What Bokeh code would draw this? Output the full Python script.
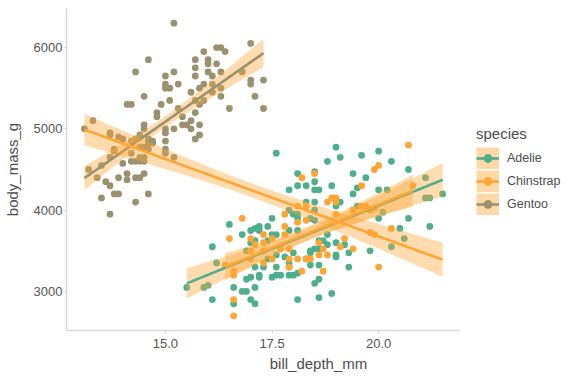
import numpy as np
from bokeh.plotting import figure
from bokeh.models import (Range1d, FixedTicker, Legend, LegendItem, ColumnDataSource)
from bokeh.embed import file_html
from bokeh.resources import INLINE

# ---------------- data ----------------
species = ["Adelie", "Chinstrap", "Gentoo"]
colors = ["#4FAF8C", "#FFA533", "#9A9170"]
band_fill = "#FDA83A"

adelie_depth = [17.6, 17.9, 16.5, 16.1, 15.5, 15.9, 16.0, 16.1, 16.2, 16.8, 17.0, 17.1, 17.2, 17.2,
                17.4, 17.5, 17.0, 17.1, 16.9, 17.1, 17.3, 17.0, 16.9, 17.2, 17.2, 17.1, 16.8, 16.9,
                16.6, 16.6, 17.0, 17.1, 17.5, 17.6, 17.7, 17.9, 17.6, 17.4, 17.6, 17.8, 17.4, 17.5,
                17.6, 17.9, 17.9,
                19.0, 19.1, 19.6, 18.8, 18.1, 18.5, 18.5, 19.4, 19.7, 18.1, 18.3, 18.5, 18.6, 18.9,
                19.5, 19.4, 18.5, 18.3, 17.9, 18.0, 19.0, 19.1, 19.5, 18.1, 18.4, 18.5, 17.9, 18.1,
                18.6, 18.7, 18.8, 19.0, 19.2, 19.0, 19.0, 19.3, 19.3, 19.8, 18.4, 18.5, 18.6, 18.4,
                18.3, 18.0, 18.0, 18.1, 18.4, 18.6, 18.5, 18.6, 18.1, 18.6, 18.9, 18.8, 18.5, 18.1,
                20.0, 20.3, 20.7, 20.0, 20.2, 21.1, 21.2, 21.5, 21.1, 20.7, 21.2, 20.5, 20.0, 20.1,
                20.3, 20.6]
adelie_mass = [4700, 4250, 3825, 3550, 3050, 3050, 3075, 2900, 3350, 3700, 3750, 3775, 3800, 3750,
               3800, 3900, 3600, 3625, 3500, 3300, 3300, 3175, 3150, 3200, 3175, 3050, 3000, 3000,
               3050, 2850, 2900, 2850, 3175, 3200, 3200, 3200, 3300, 3400, 3450, 3425, 3625, 3700,
               3700, 3350, 3300,
               4775, 4650, 4675, 4600, 4450, 4475, 4350, 4450, 4400, 4300, 4300, 4250, 4250, 4300,
               4275, 4200, 4100, 4100, 4000, 3950, 4050, 4100, 4050, 3900, 3900, 3875, 3750, 3750,
               3625, 3625, 3575, 3600, 3575, 3450, 3425, 3475, 3300, 3500, 3500, 3525, 3525, 3475,
               3400, 3475, 3200, 3225, 3325, 3325, 3100, 3150, 2900, 2925, 2975, 3700, 4000, 3950,
               4725, 4600, 4500, 4250, 4250, 4150, 4150, 4200, 4400, 3900, 3800, 3775, 3900, 3975,
               3550, 3650]

chinstrap_depth = [16.8, 16.5, 17.0, 17.1, 17.3, 17.3, 17.5, 17.3, 17.5, 17.0, 17.0, 16.4, 16.6, 16.6,
                   16.6, 16.6, 17.8, 17.8, 17.8, 17.7, 17.9, 17.9, 17.3,
                   18.2, 18.5, 19.9, 19.6, 18.8, 18.9, 19.0, 19.0, 18.1, 18.3, 18.1, 18.3, 19.0, 19.2,
                   19.1, 19.4, 18.6, 18.7, 18.8, 18.6, 18.3, 18.4, 17.9, 18.1, 18.2, 18.7, 19.4,
                   20.7, 20.0, 20.8, 20.3, 19.8, 19.9, 20.0, 19.6, 19.7, 19.8, 19.9]
chinstrap_mass = [3900, 3650, 3650, 3575, 3700, 3600, 3650, 3500, 3400, 3500, 3400, 3325, 3250, 3200,
                  2900, 2700, 3950, 3800, 3700, 3525, 3525, 3300, 3350,
                  4400, 4450, 4500, 4300, 4100, 4150, 4150, 4100, 4050, 4050, 3850, 3875, 3950, 3650,
                  3550, 3525, 3600, 3525, 3450, 3450, 3400, 3400, 3400, 3400, 3250, 3250, 4000,
                  4800, 4550, 4300, 3775, 3725, 3700, 3300, 4050, 4050, 4000, 4025]

gentoo_depth = [15.2, 17.0, 16.2, 16.3, 16.4, 15.9, 14.6, 15.7, 16.0, 16.0, 16.2, 15.7, 14.3, 15.2,
                15.0, 15.7, 16.0, 16.1, 16.3, 16.8, 17.0, 17.0, 17.3, 15.0, 15.0, 15.1, 15.3, 15.9,
                16.1, 15.8, 16.3, 15.6, 16.1, 17.1, 16.3, 14.5, 15.1, 15.9, 15.7, 14.9, 14.1, 14.2,
                15.8, 16.5, 17.3, 15.3,
                14.8, 14.8, 15.4, 15.2, 15.5, 15.6, 15.4, 15.6, 15.7, 15.8, 15.7, 15.8, 15.0, 15.0,
                15.0, 15.0, 15.0, 15.2,
                13.1, 13.3, 13.7, 13.7, 13.9, 14.0, 13.8, 13.8, 13.7, 14.0, 13.2, 13.5, 13.4, 13.6,
                13.7, 13.9, 13.8, 13.9, 14.1, 14.1, 14.3, 14.4, 14.5, 14.6, 13.5, 14.3, 13.7,
                14.2, 14.3, 14.4, 14.5, 14.5, 14.6, 14.7, 14.6, 14.7, 14.2, 14.4, 14.5, 14.6, 14.2,
                14.3, 14.4, 14.4, 14.5, 14.5]
gentoo_mass = [6300, 6050, 6000, 6000, 5950, 5950, 5850, 5850, 5850, 5800, 5800, 5750, 5700, 5700,
               5650, 5650, 5700, 5650, 5700, 5700, 5600, 5550, 5600, 5550, 5500, 5500, 5550, 5550,
               5550, 5500, 5500, 5450, 5450, 5400, 5400, 5400, 5350, 5350, 5350, 5300, 5300, 5300,
               5300, 5250, 5250, 5250,
               5200, 5150, 5150, 5000, 5050, 5000, 5050, 5100, 5200, 5050, 4875, 4925, 5000, 4950,
               4850, 4750, 4700, 4650,
               5000, 5100, 4950, 4925, 4900, 4875, 4750, 4725, 4650, 4575, 4500, 4550, 4400, 4350,
               4300, 4400, 4200, 4200, 4450, 4375, 4400, 4400, 4450, 4200, 4150, 4100, 3950,
               4850, 4875, 4925, 5050, 5000, 4875, 4850, 4825, 4825, 4700, 4775, 4775, 4750, 4600,
               4600, 4600, 4650, 4650, 4600]

x_ticks = [15.0, 17.5, 20.0]
x_tick_labels = ["15.0", "17.5", "20.0"]
y_ticks = [3000, 4000, 5000, 6000]
y_tick_labels = ["3000", "4000", "5000", "6000"]

depths = [adelie_depth, chinstrap_depth, gentoo_depth]
masses = [adelie_mass, chinstrap_mass, gentoo_mass]


def lm_band(x, y, npts=80):
    x = np.asarray(x, float)
    y = np.asarray(y, float)
    n = len(x)
    b, a = np.polyfit(x, y, 1)
    xs = np.linspace(x.min(), x.max(), npts)
    yh = a + b * xs
    s = np.sqrt(np.sum((y - (a + b * x)) ** 2) / (n - 2))
    se = s * np.sqrt(1.0 / n + (xs - x.mean()) ** 2 / np.sum((x - x.mean()) ** 2))
    t = 1.96 + 2.4 / (n - 2)
    return dict(x=xs, y=yh, lo=yh - t * se, hi=yh + t * se)


# ---------------- layout ----------------
W, H = 570, 380
LEFT, TOP, BOTTOM = 66, 8, 50
PANEL_W = 394          # width of the data panel (axis line length)
frame_w = W - LEFT     # frame reaches to the right edge; legend lives in the extra part

all_d = sum(depths, [])
all_m = sum(masses, [])
x_pad = (max(all_d) - min(all_d)) * 0.05
y_pad = (max(all_m) - min(all_m)) * 0.05
x0, x1 = min(all_d) - x_pad, max(all_d) + x_pad
xr = Range1d(x0, x0 + (x1 - x0) * frame_w / PANEL_W)
yr = Range1d(min(all_m) - y_pad, max(all_m) + y_pad)

p = figure(width=W, height=H, x_range=xr, y_range=yr,
           output_backend="svg", toolbar_location=None,
           min_border_left=LEFT, min_border_right=0, min_border_top=TOP,
           min_border_bottom=BOTTOM)
p.outline_line_color = None
p.xgrid.visible = False
p.ygrid.visible = False
p.background_fill_color = "white"
p.border_fill_color = "white"

FONT = "Liberation Sans"
for ax in (p.xaxis[0], p.yaxis[0]):
    ax.axis_line_color = "#D9D9D9"
    ax.axis_line_width = 1.5
    ax.major_tick_line_color = "#D9D9D9"
    ax.major_tick_line_width = 1.2
    ax.major_tick_out = 3
    ax.major_tick_in = 0
    ax.minor_tick_line_color = None
    ax.major_label_text_font = FONT
    ax.major_label_text_font_size = "13px"
    ax.major_label_text_color = "#555555"
    ax.axis_label_text_font = FONT
    ax.axis_label_text_font_size = "15px"
    ax.axis_label_text_font_style = "normal"
    ax.axis_label_text_color = "#4D4D4D"

p.xaxis.bounds = (x0, x1)
p.xaxis.major_label_standoff = 5
p.xaxis.axis_label_standoff = 4
p.yaxis.major_label_standoff = 1
p.yaxis.axis_label_standoff = 10

p.xaxis.ticker = FixedTicker(ticks=x_ticks)
p.xaxis.major_label_overrides = {t: l for t, l in zip(x_ticks, x_tick_labels)}
p.yaxis.ticker = FixedTicker(ticks=y_ticks)
p.yaxis.major_label_overrides = {t: l for t, l in zip(y_ticks, y_tick_labels)}
p.xaxis.axis_label = "bill_depth_mm"
p.yaxis.axis_label = "body_mass_g"

# points
pt_r = []
for d, m, c in zip(depths, masses, colors):
    r = p.scatter(d, m, size=6.8, fill_color=c, line_color=None)
    pt_r.append(r)

# smooths per species
line_r = []
for d, m, c in zip(depths, masses, colors):
    src = ColumnDataSource(lm_band(d, m))
    p.varea(x="x", y1="lo", y2="hi", source=src, fill_color=band_fill, fill_alpha=0.4)
    l = p.line(x="x", y="y", source=src, line_color=c, line_width=2.6)
    line_r.append(l)

# overall smooth
src_all = ColumnDataSource(lm_band(all_d, all_m))
p.varea(x="x", y1="lo", y2="hi", source=src_all, fill_color=band_fill, fill_alpha=0.4)
p.line(x="x", y="y", source=src_all, line_color=colors[1], line_width=2.6)

# legend key background: a one-point line (draws nothing in the plot) shown as a wide bar in keys
key_bg = p.line(x=all_d[:1], y=all_m[:1], line_color=band_fill, line_alpha=0.45,
                line_width=22, line_cap="butt")

items = [LegendItem(label=s, renderers=[key_bg, line_r[i], pt_r[i]])
         for i, s in enumerate(species)]

legend = Legend(items=items, location=(410, 115))
legend.title = "species"
legend.title_text_font = FONT
legend.title_text_font_size = "15px"
legend.title_text_font_style = "normal"
legend.title_text_color = "#4D4D4D"
legend.title_standoff = 5
legend.label_text_font = FONT
legend.label_text_font_size = "12.5px"
legend.label_text_color = "#4D4D4D"
legend.glyph_width = 23
legend.glyph_height = 22
legend.spacing = 1
legend.label_standoff = 8
legend.padding = 0
legend.margin = 0
legend.border_line_color = None
legend.background_fill_alpha = 0
p.add_layout(legend, "center")

open("out.html", "w").write(file_html(p, INLINE))
